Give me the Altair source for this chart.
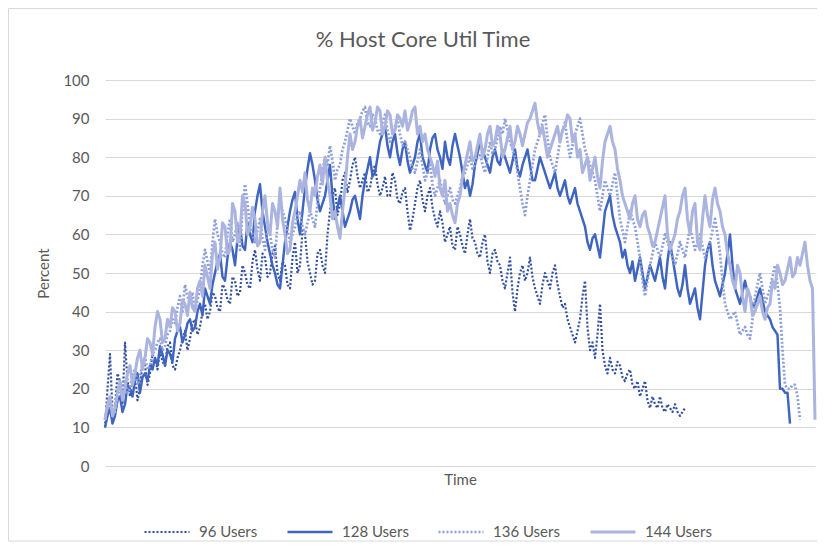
import altair as alt
import pandas as pd

series_names = ["96 Users", "128 Users", "136 Users", "144 Users"]
colors = ["#2f4e9e", "#3f65c0", "#8c9edb", "#aab4de"]
dashes = [[2, 2], [1, 0], [2, 2], [1, 0]]
widths = [2.2, 3.0, 2.2, 3.2]

title_text = "% Host Core Util Time"
y_ticks = list(range(0, 101, 10))

u96 = [10, 20, 29, 14, 15, 24, 22, 16, 32, 22, 18, 23, 24, 17, 20, 27, 26, 21, 24, 29,
       28, 25, 30, 27, 26, 31, 32, 26, 25, 28, 30, 33, 35, 30, 33, 37, 38, 34, 36, 40,
       42, 38, 40, 45, 44, 41, 40, 47, 46, 43, 42, 49, 48, 44, 45, 52, 50, 47, 46, 53,
       56, 51, 48, 55, 54, 49, 50, 55, 57, 50, 48, 53, 52, 47, 46, 54, 58, 50, 52, 61,
       60, 53, 50, 47, 48, 55, 56, 52, 50, 60, 66, 70, 72, 65, 68, 74, 76, 71, 74, 78,
       80, 75, 72, 74, 76, 71, 72, 76, 78, 73, 70, 72, 75, 70, 70, 76, 74, 69, 68, 71,
       72, 66, 61, 64, 68, 72, 74, 69, 66, 70, 72, 67, 64, 62, 66, 63, 58, 60, 62, 57,
       56, 62, 60, 57, 55, 60, 64, 59, 58, 55, 54, 58, 60, 53, 50, 55, 56, 53, 52, 48,
       46, 50, 54, 45, 40, 46, 50, 52, 48, 50, 54, 49, 46, 44, 42, 47, 50, 48, 46, 50,
       52, 47, 44, 41, 42, 38, 36, 34, 32, 35, 38, 44, 48, 36, 30, 32, 28, 34, 42, 30,
       26, 24, 28, 25, 24, 27, 26, 23, 22, 24, 25, 21, 20, 22, 18, 20, 22, 17, 15, 18,
       16, 15, 18, 15, 14, 16, 15, 14, 16, 14, 13, 14, 15]

u128 = [10, 13, 15, 11, 13, 17, 18, 14, 16, 21, 20, 18, 22, 24, 19, 23, 24, 22, 26, 25,
        28, 26, 31, 29, 26, 30, 29, 27, 33, 35, 36, 32, 34, 37, 38, 35, 36, 40, 42, 39,
        46, 44, 42, 47, 50, 53, 55, 49, 48, 54, 58, 56, 52, 59, 62, 57, 56, 63, 60, 58,
        66, 70, 73, 66, 62, 58, 55, 52, 50, 47, 46, 52, 58, 62, 66, 69, 71, 64, 60, 66,
        72, 77, 81, 78, 74, 69, 66, 68, 70, 74, 78, 70, 64, 67, 70, 66, 62, 64, 66, 69,
        70, 67, 64, 70, 74, 77, 80, 75, 76, 80, 84, 86, 88, 83, 80, 84, 86, 81, 78, 82,
        84, 79, 76, 78, 80, 84, 86, 80, 78, 76, 82, 85, 86, 82, 80, 77, 84, 80, 78, 83,
        86, 83, 80, 76, 72, 74, 70, 73, 78, 81, 84, 82, 80, 78, 76, 80, 82, 79, 78, 82,
        80, 78, 76, 79, 82, 77, 75, 78, 80, 82, 78, 74, 74, 77, 80, 78, 76, 74, 72, 74,
        76, 72, 70, 72, 74, 70, 68, 70, 72, 68, 66, 64, 62, 58, 56, 59, 60, 57, 54, 60,
        66, 68, 70, 65, 62, 60, 58, 54, 56, 52, 50, 53, 48, 51, 54, 50, 46, 49, 52, 50,
        48, 51, 54, 49, 46, 53, 58, 54, 50, 46, 44, 47, 52, 46, 42, 44, 46, 41, 38, 45,
        52, 56, 58, 52, 48, 46, 44, 47, 50, 55, 60, 52, 46, 44, 42, 45, 48, 45, 44, 41,
        42, 44, 46, 43, 40, 39, 38, 36, 35, 34, 20, 20, 19, 19, 11]

u136 = [12, 15, 16, 13, 14, 18, 19, 21, 22, 19, 20, 24, 25, 21, 23, 27, 28, 25, 26, 29,
        30, 32, 33, 30, 31, 34, 35, 38, 37, 41, 44, 40, 47, 44, 42, 45, 40, 43, 46, 52,
        56, 53, 50, 58, 64, 60, 58, 55, 54, 60, 64, 58, 60, 63, 56, 66, 73, 68, 62, 60,
        58, 61, 64, 59, 56, 62, 60, 56, 54, 63, 70, 66, 64, 61, 58, 60, 62, 65, 66, 62,
        60, 63, 66, 64, 62, 68, 72, 76, 80, 78, 83, 79, 74, 77, 78, 82, 84, 87, 90, 88,
        86, 89, 90, 92, 93, 89, 88, 91, 90, 87, 86, 89, 91, 87, 84, 86, 88, 90, 86, 83,
        84, 82, 80, 77, 76, 79, 82, 78, 74, 76, 78, 73, 70, 72, 74, 71, 68, 70, 72, 69,
        68, 70, 72, 75, 76, 78, 80, 77, 78, 80, 81, 78, 76, 80, 84, 81, 82, 85, 88, 86,
        90, 87, 84, 82, 80, 76, 72, 68, 65, 70, 74, 78, 82, 84, 86, 89, 91, 85, 80, 78,
        76, 80, 84, 87, 89, 84, 80, 83, 86, 88, 90, 86, 82, 80, 78, 76, 74, 70, 66, 70,
        74, 72, 70, 73, 76, 70, 64, 61, 58, 62, 66, 64, 62, 58, 54, 48, 44, 48, 52, 55,
        58, 56, 54, 57, 60, 58, 56, 54, 52, 55, 58, 56, 54, 58, 62, 59, 56, 58, 60, 57,
        54, 56, 58, 61, 64, 60, 55, 48, 42, 40, 38, 39, 40, 37, 34, 35, 36, 34, 33, 38,
        44, 47, 50, 46, 42, 44, 46, 49, 52, 47, 41, 30, 21, 20, 20, 21, 21, 18, 12]

u144 = [12, 16, 18, 13, 15, 19, 22, 17, 20, 24, 26, 21, 24, 28, 30, 25, 28, 33, 32, 29,
        36, 40, 38, 32, 33, 38, 36, 41, 40, 35, 37, 43, 42, 39, 45, 41, 40, 46, 48, 44,
        52, 49, 46, 55, 58, 51, 54, 63, 62, 55, 56, 68, 66, 58, 60, 70, 68, 60, 62, 67,
        64, 57, 58, 66, 70, 63, 60, 68, 66, 62, 72, 64, 60, 55, 56, 63, 66, 70, 74, 71,
        76, 69, 66, 72, 70, 75, 78, 73, 80, 74, 70, 64, 66, 62, 59, 66, 72, 80, 86, 82,
        84, 88, 90, 85, 88, 91, 93, 87, 89, 93, 92, 86, 88, 92, 91, 86, 87, 91, 90, 88,
        92, 87, 89, 92, 93, 86, 88, 84, 86, 82, 80, 78, 75, 79, 72, 70, 74, 66, 68, 65,
        63, 68, 70, 75, 78, 81, 84, 79, 80, 83, 86, 80, 82, 86, 88, 83, 84, 88, 86, 80,
        82, 85, 88, 82, 84, 88, 86, 83, 86, 89, 90, 92, 94, 89, 86, 88, 84, 80, 82, 84,
        86, 88, 84, 87, 88, 91, 90, 84, 86, 80, 82, 76, 78, 80, 74, 77, 80, 75, 72, 79,
        84, 86, 88, 84, 82, 77, 74, 70, 68, 66, 64, 68, 70, 64, 62, 65, 66, 62, 60, 57,
        58, 61, 64, 67, 70, 60, 56, 58, 60, 64, 66, 70, 72, 64, 60, 66, 68, 58, 56, 64,
        70, 65, 62, 69, 72, 68, 66, 62, 60, 55, 52, 48, 46, 52, 50, 44, 40, 46, 44, 39,
        40, 42, 44, 40, 38, 41, 42, 48, 46, 52, 50, 47, 48, 51, 54, 49, 50, 54, 52, 55,
        58, 52, 48, 46, 12]

rows = []
for name, vals in zip(series_names, [u96, u128, u136, u144]):
    for i, v in enumerate(vals):
        rows.append({"t": i, "value": v, "series": name})
df = pd.DataFrame(rows)

FONT = "Lato"
GRAY = "#595959"

lines = alt.Chart(df).mark_line(strokeJoin="round").encode(
    x=alt.X("t:Q",
            scale=alt.Scale(domain=[0, 284], nice=False, zero=False),
            axis=alt.Axis(title="Time", labels=False, ticks=False, grid=False,
                          domain=False, titleFontSize=15, titleColor=GRAY,
                          titleFont=FONT, titleFontWeight="normal", titlePadding=6)),
    y=alt.Y("value:Q",
            scale=alt.Scale(domain=[0, 100], nice=False),
            axis=alt.Axis(title="Percent", values=y_ticks, ticks=False, domain=False,
                          gridColor="#d9d9d9", gridWidth=1,
                          labelFont=FONT, labelFontSize=15, labelColor=GRAY,
                          labelPadding=16, titleFont=FONT, titleFontSize=15,
                          titleColor=GRAY, titleFontWeight="normal", titlePadding=11)),
    color=alt.Color("series:N", sort=series_names,
                    scale=alt.Scale(domain=series_names, range=colors),
                    legend=alt.Legend(title=None)),
    strokeDash=alt.StrokeDash("series:N", sort=series_names,
                              scale=alt.Scale(domain=series_names, range=dashes),
                              legend=alt.Legend(title=None)),
    strokeWidth=alt.StrokeWidth("series:N", sort=series_names,
                                scale=alt.Scale(domain=series_names, range=widths),
                                legend=None),
)

border = alt.Chart(alt.Data(values=[{}])).mark_rect(
    fill="transparent", stroke="#d9d9d9", strokeWidth=1
).encode(
    x=alt.value(-96.5), x2=alt.value(760),
    y=alt.value(-71.5), y2=alt.value(461),
)

title = alt.Chart(alt.Data(values=[{"label": title_text}])).mark_text(
    font=FONT, fontSize=22, color=GRAY, align="center", baseline="middle"
).encode(
    text="label:N", x=alt.value(318), y=alt.value(-40),
)

chart = alt.layer(border, title, lines).properties(
    width=710,
    height=386,
    padding={"left": 97, "top": 72, "right": 2, "bottom": 77},
    autosize=alt.AutoSizeParams(type="none"),
).configure_view(stroke=None).configure_legend(
    orient="none", legendX=38, legendY=428, direction="horizontal",
    symbolType="stroke", symbolSize=2025, symbolStrokeWidth=2.5,
    labelFont=FONT, labelFontSize=15, labelColor=GRAY, labelOffset=8,
    columnPadding=24,
)

chart.save("out.html", embed_options={"renderer": "svg", "actions": False})
